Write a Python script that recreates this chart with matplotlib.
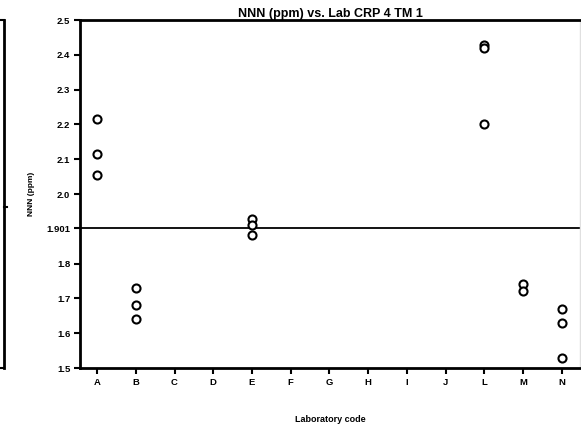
import numpy as np
import matplotlib
matplotlib.use("Agg")
import matplotlib.pyplot as plt
from matplotlib.lines import Line2D

plt.rcParams['font.family'] = ['Liberation Sans', 'DejaVu Sans']

# lab codes along x
labs = ['A', 'B', 'C', 'D', 'E', 'F', 'G', 'H', 'I', 'J', 'L', 'M', 'N']
# measured NNN (ppm) per lab
values = {
    'A': [2.215, 2.115, 2.055],
    'B': [1.729, 1.680, 1.640],
    'E': [1.928, 1.911, 1.881],
    'L': [2.428, 2.420, 2.200],
    'M': [1.741, 1.720],
    'N': [1.670, 1.628, 1.530],
}
ref_value = 1.901
yticks = [1.5, 1.6, 1.7, 1.8, 1.901, 2.0, 2.1, 2.2, 2.3, 2.4, 2.5]
ytick_labels = ['1.5', '1.6', '1.7', '1.8', '1.901', '2.0', '2.1', '2.2', '2.3', '2.4', '2.5']

fig = plt.figure(figsize=(5.81, 4.30), dpi=100)
ax = fig.add_axes([80/581, 1-368/430, 500/581, 348/430])

for lab, vals in values.items():
    x = [labs.index(lab)] * len(vals)
    ax.plot(x, vals, 'o', mfc='white', mec='black', mew=1.5, ms=5.8, zorder=3)

ax.axhline(ref_value, color='black', lw=1.3, zorder=2)

ax.set_xlim(-0.44, 12.47)
ax.set_ylim(1.5, 2.5)
ax.set_xticks(range(len(labs)))
ax.set_xticklabels(labs)
ax.set_yticks(yticks)
ax.set_yticklabels(ytick_labels)
ax.tick_params(direction='out', length=4, width=1.5, labelsize=6.8, pad=3)
for t in ax.get_xticklabels() + ax.get_yticklabels():
    t.set_fontweight('bold')

for s in ['left', 'bottom', 'top']:
    ax.spines[s].set_linewidth(2)
ax.spines['right'].set_color('#e0e0e0')
ax.spines['right'].set_linewidth(1)

ax.set_title("NNN (ppm) vs. Lab CRP 4 TM 1", fontsize=9, fontweight='bold', pad=2)
ax.set_ylabel("NNN (ppm)", fontsize=6, fontweight='bold')
ax.yaxis.set_label_coords(-45/500, 0.5)
ax.set_xlabel("Laboratory code", fontsize=6.5, fontweight='bold', va='center')
ax.xaxis.set_label_coords(0.5, -51/348)

# leftover frame edge from neighbouring chart
fig.add_artist(Line2D([3.5/581, 3.5/581], [1-20/430, 1-368/430], color='black', lw=2))
fig.add_artist(Line2D([0, 3.5/581], [1-20/430, 1-20/430], color='black', lw=1.5))
fig.add_artist(Line2D([0, 3.5/581], [1-368/430, 1-368/430], color='black', lw=1.5))
fig.add_artist(Line2D([3.5/581, 7/581], [1-207/430, 1-207/430], color='black', lw=1.5))

fig.savefig("out.png", dpi=100)
